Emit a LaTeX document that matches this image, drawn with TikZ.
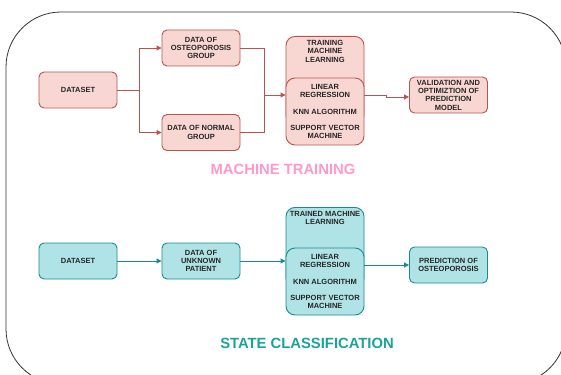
\documentclass[tikz,border=0pt]{standalone}
\usepackage{fontspec}
\setmainfont{Liberation Sans}
\usetikzlibrary{arrows.meta}

\definecolor{trainfill}{HTML}{F8D7D3}
\definecolor{traindraw}{HTML}{B85450}
\definecolor{classfill}{HTML}{B0E3E6}
\definecolor{classdraw}{HTML}{1A8A92}
\definecolor{traintitle}{HTML}{FF99CC}
\definecolor{classtitle}{HTML}{1AA39B}

\begin{document}
\begin{tikzpicture}[
  x=1pt, y=-1pt,
  every node/.style={font=\fontsize{7.5}{8.3}\selectfont\bfseries, text=black!85, align=center},
  box/.style={draw, line width=0.9pt, rounded corners=5pt, minimum width=78pt, minimum height=36pt, inner sep=1pt},
  trainbox/.style={box, fill=trainfill, draw=traindraw},
  classbox/.style={box, fill=classfill, draw=classdraw},
  algbox/.style={minimum height=67pt, rounded corners=9pt},
  backbox/.style={anchor=north, minimum width=78pt, text depth=58pt, inner ysep=4pt, rounded corners=9pt},
  title/.style={font=\fontsize{14.8}{16}\selectfont\bfseries},
  trainarrow/.style={draw=traindraw, line width=0.9pt, -{Triangle[length=5pt,width=5pt]}},
  classarrow/.style={draw=classdraw, line width=0.9pt, -{Triangle[length=5pt,width=5pt]}}
]
\useasboundingbox (0,0) rectangle (561,374);
% Frame
\draw[black!80, line width=0.8pt, rounded corners=55pt] (6,12) rectangle (566,384);

% Machine training
\node[trainbox] (data1) at (78,90) {DATASET};
\node[trainbox] (osteo) at (201,48) {DATA OF\\OSTEOPOROSIS\\GROUP};
\node[trainbox] (normal) at (201,132.5) {DATA OF NORMAL\\GROUP};
\node[trainbox, backbox] (trainml) at (325,36) {TRAINING\\MACHINE\\LEARNING};
\node[trainbox, algbox] (alg1) at (325,111.5) {LINEAR\\REGRESSION\\[8.3pt]KNN ALGORITHM\\[8.3pt]SUPPORT VECTOR\\MACHINE};
\node[trainbox] (valid) at (448.5,95) {VALIDATION AND\\OPTIMIZTION OF\\PREDICTION\\MODEL};
\node[title, text=traintitle] (ttrain) at (283,169) {MACHINE TRAINING};

\coordinate (split) at (139,90);
\coordinate (join) at (264,95);
\draw[traindraw, line width=0.9pt] (data1) -- (split);
\draw[trainarrow] (split) |- (osteo);
\draw[trainarrow] (split) |- (normal);
\draw[traindraw, line width=0.9pt] (osteo) -| (join);
\draw[traindraw, line width=0.9pt] (normal) -| (join);
\draw[trainarrow] (join) -- (join -| alg1.west);
\draw[trainarrow] (alg1.east |- 0,95) -- (386,95) -- (386,97) -- (valid.west |- 0,97);

% State classification
\node[classbox] (data2) at (78,261) {DATASET};
\node[classbox] (patient) at (201,261) {DATA OF\\UNKNOWN\\PATIENT};
\node[classbox, backbox] (trainedml) at (325,207) {TRAINED MACHINE\\LEARNING};
\node[classbox, algbox] (alg2) at (325,281.5) {LINEAR\\REGRESSION\\[8.3pt]KNN ALGORITHM\\[8.3pt]SUPPORT VECTOR\\MACHINE};
\node[classbox] (predict) at (448.5,265) {PREDICTION OF\\OSTEOPOROSIS};
\node[title, text=classtitle] (tclass) at (307,343) {STATE CLASSIFICATION};

\draw[classarrow] (data2) -- (patient);
\draw[classarrow] (patient) -- (patient -| alg2.west);
\draw[classarrow] (alg2.east |- predict) -- (predict);
\end{tikzpicture}
\end{document}
